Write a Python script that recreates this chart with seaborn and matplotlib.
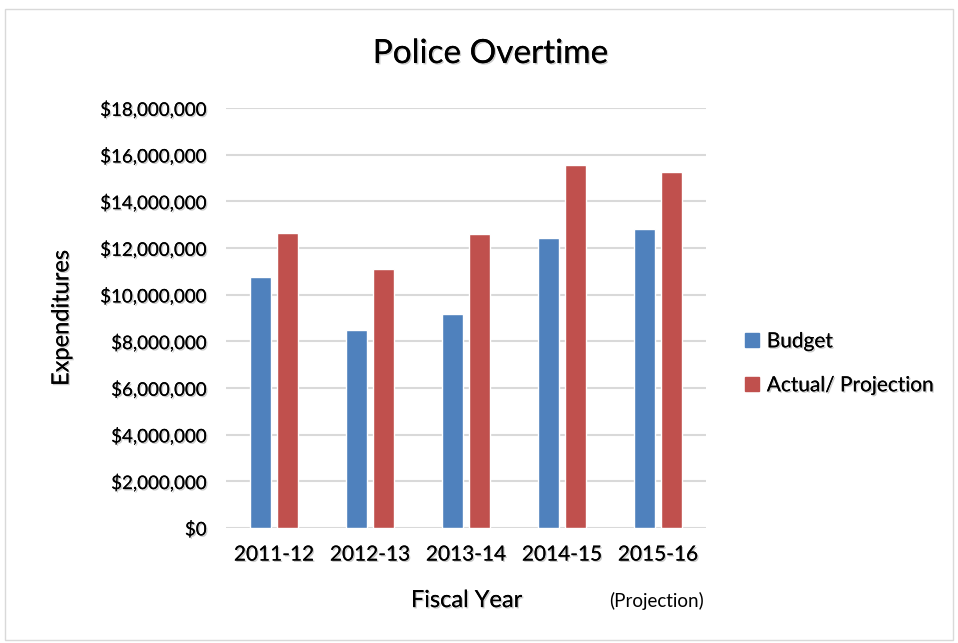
import matplotlib
matplotlib.use("Agg")
import matplotlib.pyplot as plt
import matplotlib.patheffects as pe
from matplotlib.patches import Rectangle
from matplotlib.ticker import FuncFormatter
import pandas as pd
import seaborn as sns

# data
years = ["2011-12", "2012-13", "2013-14", "2014-15", "2015-16"]
budget = [10740000, 8480000, 9170000, 12410000, 12800000]
actual = [12630000, 11090000, 12590000, 15560000, 15260000]
series = ["Budget", "Actual/ Projection"]
colors = ["#4f81bd", "#c0504d"]

df = pd.DataFrame({
    "Fiscal Year": years * 2,
    "Expenditures": budget + actual,
    "Serie": [series[0]] * len(years) + [series[1]] * len(years),
})

sns.set_theme(style="white")
plt.rcParams["font.family"] = ["Lato", "DejaVu Sans"]
plt.rcParams["text.color"] = "black"

shadow = [pe.withSimplePatchShadow(offset=(1, -1), shadow_rgbFace="#999999", alpha=0.5), pe.Normal()]

fig = plt.figure(figsize=(9.58, 6.43), dpi=100)
fig.patches.append(Rectangle((0.005, 0.005), 0.99, 0.981, transform=fig.transFigure,
                             fill=False, edgecolor="#d9d9d9", linewidth=1))
ax = fig.add_axes([0.236, 0.179, 0.501, 0.653])

sns.barplot(data=df, x="Fiscal Year", y="Expenditures", hue="Serie",
            palette=colors, width=0.5625, gap=0.22, ax=ax, legend=False,
            saturation=1, zorder=3)

ax.set_ylim(0, 18000000)
ax.set_yticks(range(0, 18000001, 2000000))
ax.yaxis.set_major_formatter(FuncFormatter(lambda v, p: f"${v:,.0f}"))
ax.grid(axis="y", color="#d9d9d9", linewidth=1.5, zorder=0)
ax.set_axisbelow(True)
for s in ax.spines.values():
    s.set_visible(False)
ax.tick_params(axis="both", length=0, colors="black")
ax.tick_params(axis="x", labelsize=15, pad=12)
ax.tick_params(axis="y", labelsize=13.5, pad=14)
for lab in ax.get_xticklabels() + ax.get_yticklabels():
    lab.set_path_effects(shadow)

ax.set_xlabel("")
ax.set_ylabel("Expenditures", fontsize=17, labelpad=20, color="black", path_effects=shadow)
fig.text(0.487, 0.066, "Fiscal Year", fontsize=17, ha="center", va="center", path_effects=shadow)
fig.text(0.685, 0.065, "(Projection)", fontsize=13.5, ha="center", va="center")
fig.text(0.512, 0.916, "Police Overtime", fontsize=24, ha="center", va="center", path_effects=shadow)

handles = [Rectangle((0, 0), 1, 1, color=c) for c in colors]
leg = fig.legend(handles, series, loc="center left", bbox_to_anchor=(0.758, 0.435),
                 frameon=False, fontsize=15, handlelength=0.7, handleheight=0.7,
                 handletextpad=0.35, labelspacing=1.15)
for t in leg.get_texts():
    t.set_path_effects(shadow)

fig.savefig("out.png", dpi=100)
